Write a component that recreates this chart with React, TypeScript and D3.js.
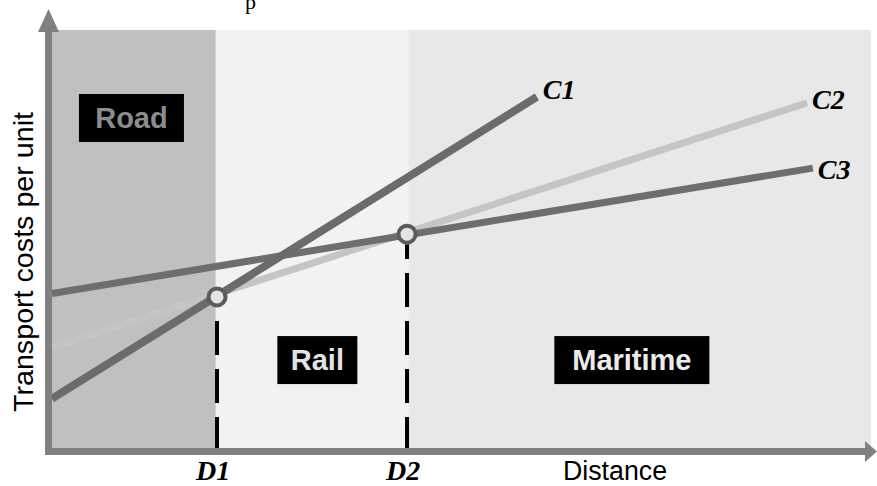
import React from "react";
import * as d3 from "d3";

// ---- data (distance 0..100, cost 0..100) ----
const lineNames = ["C1", "C2", "C3"];
const lineStart = [12.45, 24.6, 37.4]; // cost at distance 0
const lineEndDist = [59.2, 92.2, 92.9];
const lineEndCost = [84.1, 82.7, 67.2];
const breakNames = ["D1", "D2"];
const breakDist = [20.15, 43.35];
const breakCost = [36.6, 51.5];
const modeNames = ["Road", "Rail", "Maritime"];
const modeFrom = [0, 20.0, 43.5];
const modeTo = [20.0, 43.5, 100];
const modeLabelDist = [9.7, 32.4, 70.8];
const modeLabelCost = [79.1, 21.6, 21.6];

const W = 877;
const H = 486;

export default function App() {
  const x = d3.scaleLinear().domain([0, 100]).range([52, 871]);
  const y = d3.scaleLinear().domain([0, 100]).range([451, 30]);
  const line = d3
    .line<[number, number]>()
    .x((d) => x(d[0]))
    .y((d) => y(d[1]));

  const modeFill = ["#c0c0c0", "#f2f2f2", "#e8e8e8"];
  const modeText = ["#8c8c8c", "#e2e2e2", "#ececec"];
  const modeBoxW = [105, 80, 155];
  const lineColor = ["#6b6b6b", "#c5c5c5", "#6e6e6e"];
  const lineWidth = [8, 7, 7];
  const drawOrder = [1, 2, 0];
  const labelDx = [6, 5, 5];
  const labelDy = [2, 6, 11];

  const axisColor = "#808080";
  const axisY = y(0) + 0.5;
  const axisX = 48.5;

  return (
    <svg
      width={W}
      height={H}
      style={{ position: "absolute", left: 0, top: 0, background: "#fff" }}
    >
      {/* cut-off title fragment */}
      <text
        x={245}
        y={9}
        fontFamily="Liberation Serif, serif"
        fontSize={22}
        fill="#000"
      >
        p
      </text>

      {/* mode backgrounds */}
      {modeNames.map((m, i) => (
        <rect
          key={m}
          x={x(modeFrom[i])}
          y={y(100)}
          width={x(modeTo[i]) - x(modeFrom[i])}
          height={y(0) - y(100)}
          fill={modeFill[i]}
        />
      ))}

      {/* dashed drop lines */}
      {breakNames.map((b, i) => (
        <line
          key={b}
          x1={x(breakDist[i])}
          x2={x(breakDist[i])}
          y1={y(0)}
          y2={y(breakCost[i]) + 10}
          stroke="#000"
          strokeWidth={4}
          strokeDasharray="34 14"
        />
      ))}

      {/* cost lines */}
      {drawOrder.map((i) => (
        <path
          key={lineNames[i]}
          d={
            line([
              [0, lineStart[i]],
              [lineEndDist[i], lineEndCost[i]],
            ]) || ""
          }
          stroke={lineColor[i]}
          strokeWidth={lineWidth[i]}
          fill="none"
        />
      ))}

      {/* line labels */}
      {lineNames.map((n, i) => (
        <text
          key={n}
          x={x(lineEndDist[i]) + labelDx[i]}
          y={y(lineEndCost[i]) + labelDy[i]}
          fontFamily="Liberation Serif, serif"
          fontWeight="bold"
          fontStyle="italic"
          fontSize={28}
          fill="#000"
        >
          {n}
        </text>
      ))}

      {/* break points */}
      {breakNames.map((b, i) => (
        <circle
          key={b}
          cx={x(breakDist[i])}
          cy={y(breakCost[i])}
          r={8.5}
          fill="#e4e4e4"
          stroke="#5c5c5c"
          strokeWidth={4}
        />
      ))}

      {/* mode labels */}
      {modeNames.map((m, i) => (
        <g key={m}>
          <rect
            x={x(modeLabelDist[i]) - modeBoxW[i] / 2}
            y={y(modeLabelCost[i]) - 24}
            width={modeBoxW[i]}
            height={48}
            fill="#000"
          />
          <text
            x={x(modeLabelDist[i])}
            y={y(modeLabelCost[i]) + 10}
            textAnchor="middle"
            fontFamily="Liberation Sans, Arial, sans-serif"
            fontWeight="bold"
            fontSize={29}
            fill={modeText[i]}
          >
            {m}
          </text>
        </g>
      ))}

      {/* axes */}
      <line
        x1={axisX}
        x2={axisX}
        y1={axisY + 3.5}
        y2={30}
        stroke={axisColor}
        strokeWidth={7}
      />
      <path
        d={`M${axisX - 10.5},32 L${axisX},9 L${axisX + 10.5},32 Z`}
        fill={axisColor}
      />
      <line
        x1={axisX - 3.5}
        x2={866}
        y1={axisY}
        y2={axisY}
        stroke={axisColor}
        strokeWidth={7}
      />
      <path
        d={`M865,${axisY - 10.5} L877,${axisY} L865,${axisY + 10.5} Z`}
        fill={axisColor}
      />

      {/* break labels */}
      {breakNames.map((b, i) => (
        <text
          key={b}
          x={x(breakDist[i]) - 4}
          y={480}
          textAnchor="middle"
          fontFamily="Liberation Serif, serif"
          fontWeight="bold"
          fontStyle="italic"
          fontSize={28}
          fill="#000"
        >
          {b}
        </text>
      ))}

      {/* axis titles */}
      <text
        x={563}
        y={480}
        fontFamily="Liberation Sans, Arial, sans-serif"
        fontSize={27}
        textLength={104}
        lengthAdjust="spacingAndGlyphs"
        fill="#000"
      >
        Distance
      </text>
      <text
        transform="translate(33,262) rotate(-90)"
        textAnchor="middle"
        fontFamily="Liberation Sans, Arial, sans-serif"
        fontSize={28}
        textLength={300}
        lengthAdjust="spacingAndGlyphs"
        fill="#000"
      >
        Transport costs per unit
      </text>
    </svg>
  );
}
